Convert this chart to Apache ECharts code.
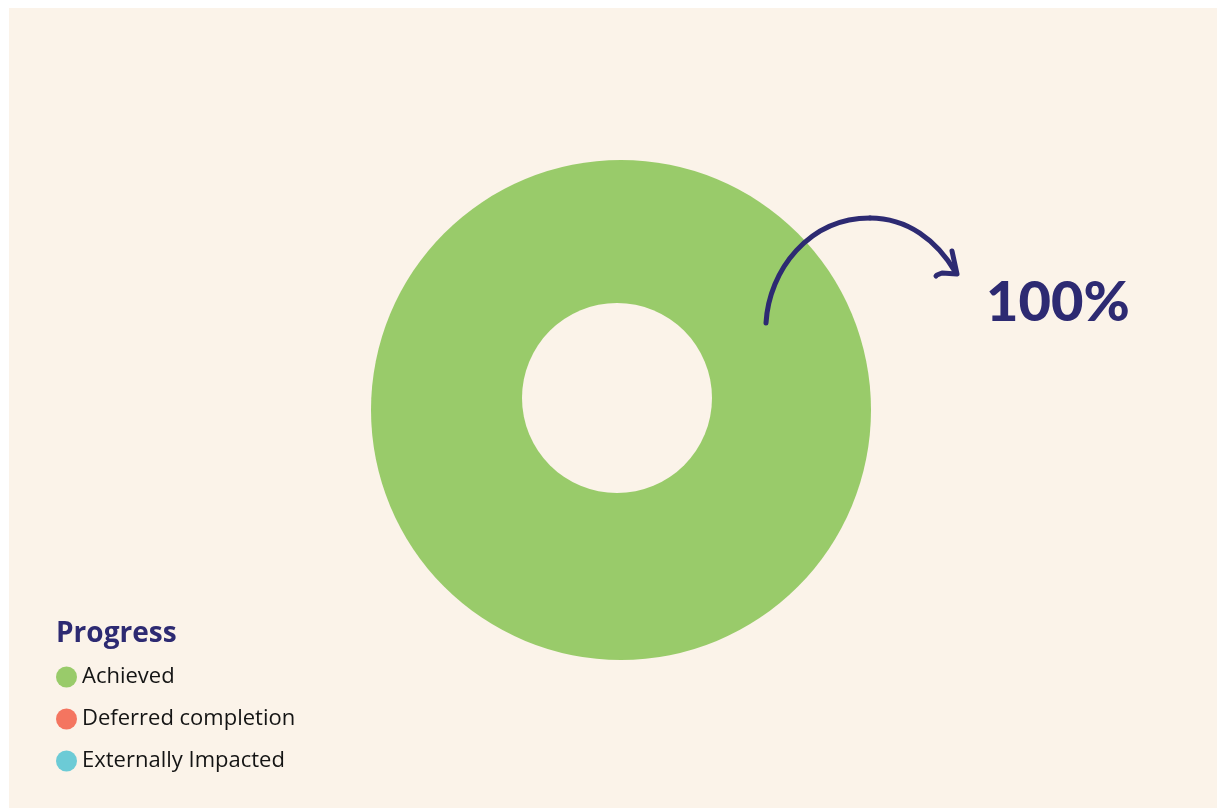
<!DOCTYPE html>
<html>
<head>
<meta charset="utf-8">
<script src="https://cdn.jsdelivr.net/npm/echarts@6/dist/echarts.min.js"></script>
<style>
  html, body { margin: 0; padding: 0; background: #ffffff; }
  #chart { position: absolute; left: 9px; top: 8px; width: 1208px; height: 800px; }
</style>
</head>
<body>
<div id="chart"></div>
<script>
// categories and values
const categories = ['Achieved', 'Deferred completion', 'Externally Impacted']
const values = [100, 0, 0]
const colors = ['#99cb6a', '#f47560', '#6ccbd6']
const legendTitle = 'Progress'
const bigLabel = '100%'

let chart = echarts.init(document.getElementById('chart'))
const bg = '#fbf3e9'
const navy = '#2d2a72'
const arrowStyle = { fill: null, stroke: navy, lineWidth: 5, lineCap: 'round', lineJoin: 'round' }

let option = {
  backgroundColor: bg,
  color: colors,
  animation: false,
  title: {
    text: legendTitle,
    left: 42,
    top: 607,
    textStyle: { color: navy, fontSize: 28, fontWeight: 'bold', fontFamily: 'Open Sans' }
  },
  legend: {
    orient: 'vertical',
    left: 42,
    top: 653,
    icon: 'circle',
    itemWidth: 21,
    itemHeight: 21,
    itemGap: 20,
    selectedMode: false,
    data: categories,
    textStyle: { color: '#141414', fontSize: 22, fontFamily: 'Open Sans' }
  },
  series: [{
    name: legendTitle,
    type: 'pie',
    radius: [0, 250],
    center: [612, 402],
    silent: true,
    label: { show: false },
    labelLine: { show: false },
    stillShowZeroSum: false,
    data: categories.map((c, i) => ({ name: c, value: values[i] }))
  }],
  graphic: [
    // off-centre hole of the ring
    { type: 'circle', shape: { cx: 608, cy: 390, r: 95 }, style: { fill: bg }, z: 100 },
    {
      type: 'bezierCurve', z: 101,
      shape: { x1: 757, y1: 315, cpx1: 760, cpy1: 262, cpx2: 800, cpy2: 210, x2: 861, y2: 210 },
      style: arrowStyle
    },
    {
      type: 'bezierCurve', z: 101,
      shape: { x1: 861, y1: 210, cpx1: 898, cpy1: 210, cpx2: 928, cpy2: 232, x2: 947, y2: 265 },
      style: arrowStyle
    },
    {
      type: 'polyline', z: 101,
      shape: { points: [[943, 243], [948, 266], [933, 265], [928, 267], [927, 268]] },
      style: arrowStyle
    },
    {
      type: 'text', z: 101, left: 977, top: 267,
      style: { text: bigLabel, fill: navy, fontSize: 56, fontWeight: 900, fontFamily: 'Lato' }
    }
  ]
}
chart.setOption(option)
</script>
</body>
</html>
